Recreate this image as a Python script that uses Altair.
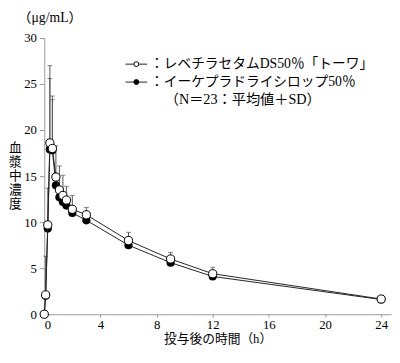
import altair as alt
import pandas as pd

# ---- data ----
times = [0, 0.1, 0.25, 0.4, 0.58, 0.83, 1.08, 1.33, 1.58, 2, 3, 6, 9, 12, 24]
ds_mean = [0, 2.1, 9.7, 18.6, 18.0, 14.9, 13.5, 12.9, 12.4, 11.4, 10.8, 8.0, 6.0, 4.4, 1.65]
ds_sd = [0, 4.2, 4.0, 8.4, 5.7, 3.4, 2.6, 2.2, 1.5, 1.5, 0.8, 0.9, 0.7, 0.7, 0.2]
syr_mean = [0, 2.0, 9.3, 17.9, 17.8, 14.0, 12.7, 12.2, 11.8, 11.0, 10.2, 7.5, 5.6, 4.1, 1.6]
syr_sd = [None, None, None, 7.7, 5.5, None, None, None, None, None, None, None, None, None, None]

series_names = ["レベチラセタムDS50％「トーワ」", "イーケプラドライシロップ50％"]
legend_labels = ["：レベチラセタムDS50％「トーワ」", "：イーケプラドライシロップ50％"]
note_label = ["（N＝23：平均値＋SD）"]
unit_label = ["（μg/mL）"]
x_ticks = [0, 4, 8, 12, 16, 20, 24]
y_ticks = [0, 5, 10, 15, 20, 25, 30]
x_title = "投与後の時間（h）"
y_title = ["血\n漿\n中\n濃\n度"]

rows = []
for t, m, s in zip(times, ds_mean, ds_sd):
    rows.append({"t": t, "mean": m, "upper": m + s if s is not None else None, "series": series_names[0]})
for t, m, s in zip(times, syr_mean, syr_sd):
    rows.append({"t": t, "mean": m, "upper": m + s if s is not None else None, "series": series_names[1]})
df = pd.DataFrame(rows)

LAT = "Liberation Serif, Noto Sans CJK JP"

xs = alt.Scale(domain=[0, 24.7], nice=False, zero=False)
ys = alt.Scale(domain=[0, 30], nice=False)

X = alt.X("t:Q", scale=xs, axis=alt.Axis(values=x_ticks, title=x_title, tickSize=3,
                                           titleY=25, titleBaseline="middle", labelPadding=2,
                                           titleFont=LAT, titleFontSize=13, titleFontWeight="normal"))
Y = alt.Y("mean:Q", scale=ys, axis=alt.Axis(values=y_ticks, title=None, tickSize=5, labelPadding=3))

base = alt.Chart(df)
err_data = base.transform_filter("isValid(datum.upper)")
err_rule = err_data.mark_rule(color="#555", strokeWidth=1).encode(x="t:Q", y="mean:Q", y2="upper:Q")
err_cap = err_data.mark_tick(color="#555", orient="horizontal", size=5, thickness=1).encode(x="t:Q", y="upper:Q")

syr = base.transform_filter(alt.datum.series == series_names[1])
ds = base.transform_filter(alt.datum.series == series_names[0])

syr_line = syr.mark_line(color="#222", strokeWidth=1).encode(x=X, y=Y)
syr_pts = syr.mark_point(shape="circle", filled=True, color="black", size=70, opacity=1).encode(x="t:Q", y="mean:Q")
ds_line = ds.mark_line(color="#222", strokeWidth=1).encode(x="t:Q", y="mean:Q")
ds_pts = ds.mark_point(shape="circle", filled=True, fill="white", stroke="black", strokeWidth=1,
                       size=70, opacity=1).encode(x="t:Q", y="mean:Q")

# ---- custom legend and free texts ----
leg1 = pd.DataFrame({"label": [legend_labels[0]]})
leg2 = pd.DataFrame({"label": [legend_labels[1]]})
note_df = pd.DataFrame({"label": note_label})
unit_df = pd.DataFrame({"label": unit_label})
ytitle_df = pd.DataFrame({"label": y_title})

def sym(y, fill):
    d = alt.Chart(leg1)
    r = d.mark_rule(color="#222", strokeWidth=1).encode(x=alt.value(83), x2=alt.value(105), y=alt.value(y))
    p = d.mark_point(shape="circle", filled=True, fill=fill, stroke="black", strokeWidth=1, size=25,
                     opacity=1).encode(x=alt.value(94), y=alt.value(y))
    return r + p

def txt(d, x, y, size=14, align="left", baseline="middle", **kw):
    return alt.Chart(d).mark_text(align=align, baseline=baseline, font=LAT, fontSize=size,
                                  color="black", **kw).encode(x=alt.value(x), y=alt.value(y), text="label:N")

legend = (sym(26.7, "white") + sym(45, "black") + txt(leg1, 108, 26.7) + txt(leg2, 108, 45)
          + txt(note_df, 123, 63.3, size=14.5) + txt(unit_df, -27, -20, size=14)
          + txt(ytitle_df, -29.5, 106, size=13, align="center", baseline="top", lineBreak="\n", lineHeight=14.3))

chart = alt.layer(
    syr_line, err_rule, err_cap, syr_pts, ds_line, ds_pts, legend
).properties(
    width=354, height=282,
    autosize=alt.AutoSizeParams(type="none"),
    padding={"left": 37, "top": 27, "right": 1, "bottom": 38},
).configure_axis(
    domainColor="#999", tickColor="#999", labelColor="black", titleColor="black",
    labelFont=LAT, labelFontSize=13, grid=False,
).configure_view(stroke=None)

chart.save("out.html", embed_options={"renderer": "svg", "actions": False})
